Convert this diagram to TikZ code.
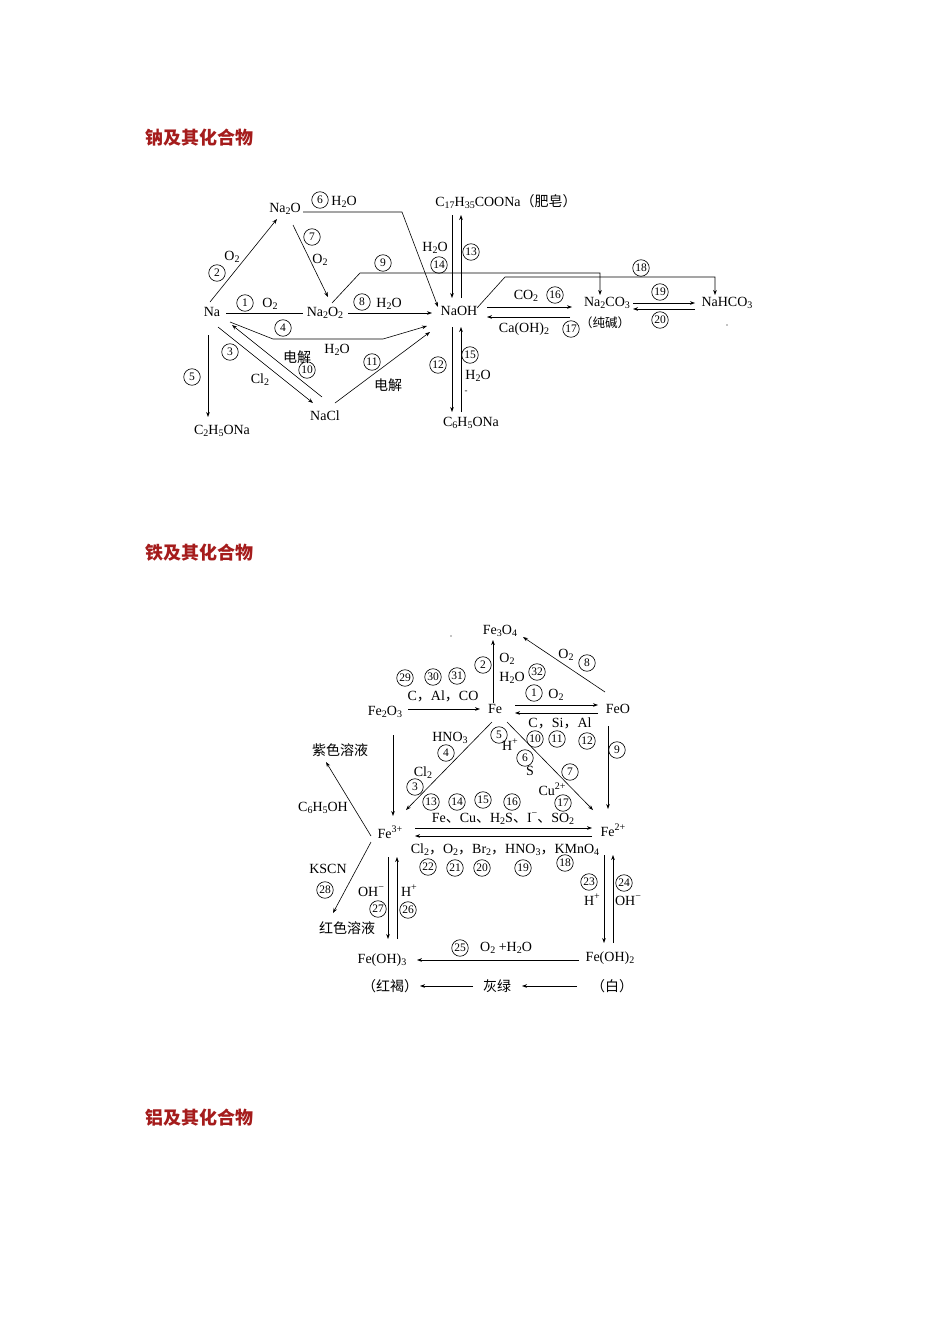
\documentclass[tikz,border=0pt]{standalone}
\usepackage{fontspec}
\setmainfont{Liberation Serif}
\newfontfamily\cjk{Noto Sans CJK SC}
\usetikzlibrary{arrows.meta}
\newcommand\sbs[1]{\raisebox{-0.4ex}{\fontsize{10}{10}\selectfont #1}}
\newcommand\sps[1]{\raisebox{0.85ex}{\fontsize{10}{10}\selectfont #1}}
\definecolor{headred}{RGB}{165,28,28}
\begin{document}
\begin{tikzpicture}[x=1pt,y=-1pt,
  chem/.style={font=\fontsize{14}{15}\selectfont, inner sep=0.5pt, text height=9.5pt, text depth=3pt},
  cn/.style={circle, draw, line width=0.65pt, inner sep=0pt, minimum size=16.5pt, font=\fontsize{11.5}{12}\selectfont},
  zh/.style={font=\cjk\fontsize{14}{15}\selectfont, inner sep=0pt},
  zhs/.style={font=\cjk\fontsize{12.5}{13}\selectfont, inner sep=0pt},
  arr/.style={-{Stealth[length=5pt,width=3.6pt]}, line width=0.6pt},
  ln/.style={line width=0.6pt},
  head/.style={font=\cjk\bfseries\fontsize{18}{20}\selectfont, text=headred, anchor=west, inner sep=0pt}]
\fill[white] (0,0) rectangle (950,1344);
\useasboundingbox (0,0) rectangle (950,1344);

% headings
\node[head] (h1) at (145,138) {钠及其化合物};
\node[head] (h2) at (145,553) {铁及其化合物};
\node[head] (h3) at (145,1118) {铝及其化合物};

% ---------------- sodium ----------------
\node[chem] (Na) at (212,313) {Na};
\node[chem] (NaO) at (285,209) {Na\sbs{2}O};
\node[chem] (NaOO) at (325,313) {Na\sbs{2}O\sbs{2}};
\node[chem] (NaOH) at (459,312) {NaOH};
\node[chem] (Soap) at (506,203) {C\sbs{17}H\sbs{35}COONa{\cjk （肥皂）}};
\node[chem] (NaCO) at (607,303) {Na\sbs{2}CO\sbs{3}};
\node[zhs] (chun) at (605,323) {（纯碱）};
\node[chem] (NaHCO) at (727,303) {NaHCO\sbs{3}};
\node[chem] (NaCl) at (325,417) {NaCl};
\node[chem] (Etona) at (222,431) {C\sbs{2}H\sbs{5}ONa};
\node[chem] (Phona) at (471,423) {C\sbs{6}H\sbs{5}ONa};

\draw[arr] ([shift={(-2,-11)}]Na.center) -- ([shift={(-8,10)}]NaO.center);
\draw[ln] ([shift={(14,0)}]Na.center) -- ([shift={(-22,0)}]NaOO.center);
\draw[arr] ([shift={(18,9)}]Na.center) --++(43,17) --++(110,0) -- ([shift={(-32,14)}]NaOH.center);
\draw[arr] ([shift={(6,14)}]Na.center) -- ([shift={(-12,-14)}]NaCl.center);
\draw[arr] ([shift={(-3,-20)}]NaCl.center) -- ([shift={(20,12)}]Na.center);
\draw[arr] ([shift={(10,-14)}]NaCl.center) -- ([shift={(-29,20)}]NaOH.center);
\draw[arr] ([shift={(-4,22)}]Na.center) -- ([shift={(-14,-14)}]Etona.center);
\draw[arr] ([shift={(18,3)}]NaO.center) --++(99,0) -- ([shift={(-21,-5)}]NaOH.center);
\draw[arr] ([shift={(8,16)}]NaO.center) -- ([shift={(3,-16)}]NaOO.center);
\draw[arr] ([shift={(23,0)}]NaOO.center) -- ([shift={(-27,1)}]NaOH.center);
\draw[arr] ([shift={(7,-10)}]NaOO.center) --++(28,-30) -| ([shift={(-7,-8)}]NaCO.center);
\draw[arr] ([shift={(18,-4)}]NaOH.center) --++(28,-31) -| ([shift={(-12,-8)}]NaHCO.center);
\draw[arr] ([shift={(28,-5)}]NaOH.center) -- ([shift={(-35,4)}]NaCO.center);
\draw[arr] ([shift={(-37,14)}]NaCO.center) -- ([shift={(28,5)}]NaOH.center);
\draw[arr] ([shift={(26,0)}]NaCO.center) -- ([shift={(-32,0)}]NaHCO.center);
\draw[arr] ([shift={(-32,6)}]NaHCO.center) -- ([shift={(26,6)}]NaCO.center);
\draw[arr] ([shift={(-54,12)}]Soap.center) -- ([shift={(-7,-14)}]NaOH.center);
\draw[arr] ([shift={(2,-14)}]NaOH.center) -- ([shift={(-45,12)}]Soap.center);
\draw[arr] ([shift={(-7,15)}]NaOH.center) -- ([shift={(-19,-11)}]Phona.center);
\draw[arr] ([shift={(-10,-11)}]Phona.center) -- ([shift={(2,15)}]NaOH.center);

\node[cn] (c6) at (320,200) {6};
\node[chem] (l6) at (344,202) {H\sbs{2}O};
\node[cn] (c2) at (217,273) {2};
\node[chem] (l2) at (232,257) {O\sbs{2}};
\node[cn] (c7) at (312,237) {7};
\node[chem] (l7) at (320,260) {O\sbs{2}};
\node[cn] (c9) at (383,263) {9};
\node[cn] (c1) at (245,303) {1};
\node[chem] (l1) at (270,304) {O\sbs{2}};
\node[cn] (c8) at (362,302) {8};
\node[chem] (l8) at (389,304) {H\sbs{2}O};
\node[cn] (c4) at (283,328) {4};
\node[chem] (l4) at (337,350) {H\sbs{2}O};
\node[cn] (c3) at (230,352) {3};
\node[chem] (l3) at (260,380) {Cl\sbs{2}};
\node[zh] (l10) at (297,357) {电解};
\node[cn] (c10) at (307,370) {10};
\node[cn] (c11) at (372,362) {11};
\node[zh] (l11) at (388,385) {电解};
\node[cn] (c5) at (192,377) {5};
\node[chem] (l14) at (435,248) {H\sbs{2}O};
\node[cn] (c14) at (439,265) {14};
\node[cn] (c13) at (471,252) {13};
\node[cn] (c12) at (438,365) {12};
\node[cn] (c15) at (470,355) {15};
\node[chem] (l15) at (478,376) {H\sbs{2}O};
\node[font=\fontsize{9}{9}\selectfont, inner sep=0pt] (dash15) at (466,392) {-};
\node[chem] (l16) at (526,296) {CO\sbs{2}};
\node[cn] (c16) at (555,295) {16};
\node[chem] (l17) at (524,329) {Ca(OH)\sbs{2}};
\node[cn] (c17) at (571,329) {17};
\node[cn] (c19) at (660,292) {19};
\node[cn] (c20) at (660,320) {20};
\node[cn] (c18) at (641,268) {18};
\fill (727,325) circle (0.7);

% ---------------- iron ----------------
\node[chem] (FeOf) at (500,631) {Fe\sbs{3}O\sbs{4}};
\node[chem] (Fe) at (495,710) {Fe};
\node[chem] (FeOt) at (385,712) {Fe\sbs{2}O\sbs{3}};
\node[chem] (FeO) at (618,710) {FeO};
\node[chem] (Fe3) at (390,835) {Fe\sps{3+}};
\node[chem] (Fe2) at (613,833) {Fe\sps{2+}};
\node[chem] (FeOHt) at (382,960) {Fe(OH)\sbs{3}};
\node[chem] (FeOHd) at (610,958) {Fe(OH)\sbs{2}};
\node[zh] (hong) at (390,986) {（红褐）};
\node[zh] (hui) at (497,986) {灰绿};
\node[zh] (bai) at (612,986) {（白）};
\node[zh] (zise) at (340,750) {紫色溶液};
\node[zh] (hongse) at (347,928) {红色溶液};

\draw[arr] ([shift={(-2,-7)}]Fe.center) -- ([shift={(-7,9)}]FeOf.center);
\draw[arr] ([shift={(-13,-18)}]FeO.center) -- ([shift={(23,6)}]FeOf.center);
\draw[arr] ([shift={(23,-3)}]FeOt.center) -- ([shift={(-15,-1)}]Fe.center);
\draw[arr] ([shift={(20,-5)}]Fe.center) -- ([shift={(-20,-5)}]FeO.center);
\draw[arr] ([shift={(-20,3)}]FeO.center) -- ([shift={(20,3)}]Fe.center);
\draw[arr] ([shift={(-3,12)}]Fe.center) -- ([shift={(16,-25)}]Fe3.center);
\draw[arr] ([shift={(12,12)}]Fe.center) -- ([shift={(-20,-23)}]Fe2.center);
\draw[arr] ([shift={(-10,16)}]FeO.center) -- ([shift={(-5,-24)}]Fe2.center);
\draw[arr] ([shift={(8,23)}]FeOt.center) -- ([shift={(3,-19)}]Fe3.center);
\draw[arr] ([shift={(25,-7)}]Fe3.center) -- ([shift={(-21,-5)}]Fe2.center);
\draw[arr] ([shift={(-21,3)}]Fe2.center) -- ([shift={(25,1)}]Fe3.center);
\draw[arr] ([shift={(-19,1)}]Fe3.center) -- ([shift={(-14,12)}]zise.center);
\draw[arr] ([shift={(-19,7)}]Fe3.center) -- ([shift={(-14,-15)}]hongse.center);
\draw[arr] ([shift={(-2,22)}]Fe3.center) -- ([shift={(6,-21)}]FeOHt.center);
\draw[arr] ([shift={(15,-21)}]FeOHt.center) -- ([shift={(7,22)}]Fe3.center);
\draw[arr] ([shift={(-9,22)}]Fe2.center) -- ([shift={(-6,-15)}]FeOHd.center);
\draw[arr] ([shift={(3,-15)}]FeOHd.center) -- ([shift={(0,22)}]Fe2.center);
\draw[arr] ([shift={(-31,2)}]FeOHd.center) -- ([shift={(35,0)}]FeOHt.center);
\draw[arr] ([shift={(-35,0)}]bai.center) -- ([shift={(25,0)}]hui.center);
\draw[arr] ([shift={(-24,0)}]hui.center) -- ([shift={(30,0)}]hong.center);

\node[cn] (d2) at (483,665) {2};
\node[chem] (m2) at (507,659) {O\sbs{2}};
\node[chem] (m32) at (512,678) {H\sbs{2}O};
\node[cn] (d32) at (537,672) {32};
\node[chem] (m8) at (566,655) {O\sbs{2}};
\node[cn] (d8) at (587,663) {8};
\node[cn] (d29) at (405,678) {29};
\node[cn] (d30) at (433,677) {30};
\node[cn] (d31) at (457,676) {31};
\node[chem] (m29) at (443,697) {C{\cjk ，}Al{\cjk ，}CO};
\node[cn] (d1) at (534,693) {1};
\node[chem] (m1) at (556,695) {O\sbs{2}};
\node[chem] (m10) at (560,724) {C{\cjk ，}Si{\cjk ，}Al};
\node[cn] (d10) at (535,739) {10};
\node[cn] (d11) at (557,739) {11};
\node[cn] (d12) at (587,741) {12};
\node[cn] (d9) at (617,750) {9};
\node[chem] (m4) at (450,738) {HNO\sbs{3}};
\node[cn] (d4) at (446,753) {4};
\node[chem] (m3) at (423,773) {Cl\sbs{2}};
\node[cn] (d3) at (415,787) {3};
\node[cn] (d5) at (499,735) {5};
\node[chem] (m5) at (510,747) {H\sps{+}};
\node[cn] (d6) at (525,758) {6};
\node[chem] (m6) at (530,772) {S};
\node[cn] (d7) at (570,772) {7};
\node[chem] (m17) at (552,792) {Cu\sps{2+}};
\node[cn] (d17) at (563,803) {17};
\node[cn] (d13) at (431,802) {13};
\node[cn] (d14) at (457,802) {14};
\node[cn] (d15) at (483,800) {15};
\node[cn] (d16) at (512,802) {16};
\node[chem] (m13) at (503,819) {Fe{\cjk 、}Cu{\cjk 、}H\sbs{2}S{\cjk 、}I\sps{−}{\cjk 、}SO\sbs{2}};
\node[chem] (m18) at (505,850) {Cl\sbs{2}{\cjk ，}O\sbs{2}{\cjk ，}Br\sbs{2}{\cjk ，}HNO\sbs{3}{\cjk ，}KMnO\sbs{4}};
\node[cn] (d22) at (428,867) {22};
\node[cn] (d21) at (455,868) {21};
\node[cn] (d20) at (482,868) {20};
\node[cn] (d19) at (523,868) {19};
\node[cn] (d18) at (565,863) {18};
\node[chem] (m6h) at (323,808) {C\sbs{6}H\sbs{5}OH};
\node[chem] (mk) at (328,870) {KSCN};
\node[cn] (d28) at (325,890) {28};
\node[chem] (m27) at (371,893) {OH\sps{−}};
\node[cn] (d27) at (378,909) {27};
\node[chem] (m26) at (409,893) {H\sps{+}};
\node[cn] (d26) at (408,910) {26};
\node[cn] (d23) at (589,882) {23};
\node[chem] (m23) at (592,902) {H\sps{+}};
\node[cn] (d24) at (624,883) {24};
\node[chem] (m24) at (628,902) {OH\sps{−}};
\node[cn] (d25) at (460,948) {25};
\node[chem] (m25) at (506,948) {O\sbs{2} +H\sbs{2}O};
\fill (451,636) circle (0.7);
\end{tikzpicture}
\end{document}
